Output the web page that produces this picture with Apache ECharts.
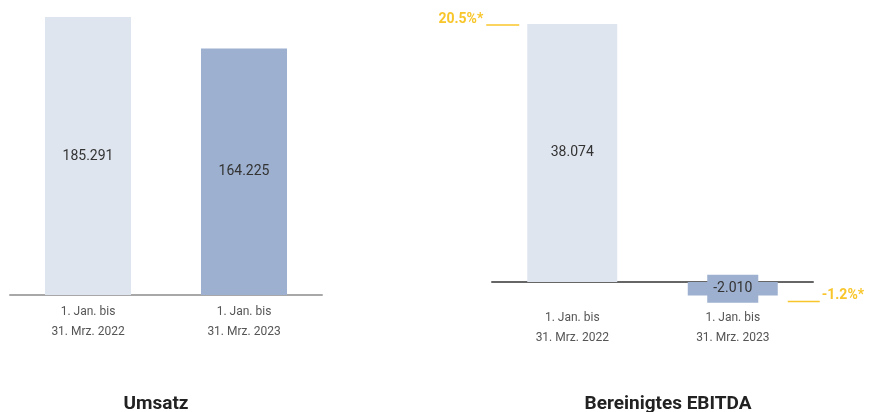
<!DOCTYPE html>
<html>
<head>
<meta charset="utf-8">
<script src="https://cdn.jsdelivr.net/npm/echarts@6/dist/echarts.min.js"></script>
<style>
html,body{margin:0;padding:0;background:#fff;}
#c{width:872px;height:412px;}
</style>
</head>
<body>
<div id="c"></div>
<script>
var categories = ['1. Jan. bis\n31. Mrz. 2022', '1. Jan. bis\n31. Mrz. 2023'];
var umsatzValues = [185.291, 164.225];
var ebitdaValues = [38.074, -2.010];
var marginLabels = ['20.5%*', '-1.2%*'];
var chartTitles = ['Umsatz', 'Bereinigtes EBITDA'];

var FONT = 'Roboto, "DejaVu Sans", sans-serif';
var barColors = ['#dfe5ef', '#9eb0cf'];
var yellow = '#f8c62a';

function fmt(v) { return v.toFixed(3); }

var chart = echarts.init(document.getElementById('c'));
chart.setOption({
  animation: false,
  backgroundColor: '#fff',
  textStyle: { fontFamily: FONT },
  title: [
    { text: chartTitles[0], left: 151, top: 390, textAlign: 'center',
      textStyle: { fontFamily: FONT, fontSize: 19, fontWeight: 'bold', color: '#222' } },
    { text: chartTitles[1], left: 663, top: 390, textAlign: 'center',
      textStyle: { fontFamily: FONT, fontSize: 19, fontWeight: 'bold', color: '#222' } }
  ],
  grid: [
    { left: 10, width: 312, top: 17, height: 278 },
    { left: 492, width: 321, top: 24, height: 271.6 }
  ],
  xAxis: [
    { gridIndex: 0, type: 'category', data: categories,
      axisLine: { lineStyle: { color: '#a8a8a8', width: 2 } },
      axisTick: { show: false },
      axisLabel: { margin: 7, fontFamily: FONT, fontSize: 12, lineHeight: 20, color: '#555' } },
    { gridIndex: 1, type: 'category', data: categories,
      axisLine: { onZero: true, lineStyle: { color: '#666', width: 2 } },
      axisTick: { show: false },
      axisLabel: { margin: 12, fontFamily: FONT, fontSize: 12, lineHeight: 20, color: '#555' } }
  ],
  yAxis: [
    { gridIndex: 0, type: 'value', min: 0, max: 'dataMax', show: false, splitLine: { show: false } },
    { gridIndex: 1, type: 'value', min: 'dataMin', max: 'dataMax', show: false, splitLine: { show: false } }
  ],
  series: [
    { type: 'bar', xAxisIndex: 0, yAxisIndex: 0, barWidth: 86, z: 1,
      data: umsatzValues.map(function (v, i) { return { value: v, itemStyle: { color: barColors[i] } }; }),
      label: { show: true, position: 'inside', fontFamily: FONT, fontSize: 14, color: '#333',
        formatter: function (p) { return fmt(p.value); } } },
    { type: 'bar', xAxisIndex: 1, yAxisIndex: 1, barWidth: 90, z: 1,
      data: ebitdaValues.map(function (v, i) {
        var d = { value: v, itemStyle: { color: barColors[i] } };
        if (v < 0) d.label = { backgroundColor: barColors[i], padding: [7, 6] };
        return d;
      }),
      label: { show: true, position: 'inside', fontFamily: FONT, fontSize: 14, color: '#333',
        formatter: function (p) { return fmt(p.value); } } },
    { type: 'custom', xAxisIndex: 1, yAxisIndex: 1, z: 5, silent: true,
      data: ebitdaValues.map(function (v, i) { return [i, v]; }),
      renderItem: function (params, api) {
        var i = api.value(0);
        var pt = api.coord([i, api.value(1)]);
        var half = 45;
        var label = marginLabels[params.dataIndex];
        var children;
        if (params.dataIndex === 0) {
          var edge = pt[0] - half;
          var ly = pt[1] + 1;
          children = [
            { type: 'line', shape: { x1: edge - 41, y1: ly, x2: edge - 8, y2: ly },
              style: { stroke: yellow, lineWidth: 1.5 } },
            { type: 'text', style: { text: label, x: edge - 44, y: ly + 1, align: 'right', verticalAlign: 'bottom',
              fill: yellow, font: 'bold 14px ' + FONT } }
          ];
        } else {
          var edge2 = pt[0] + half;
          var ly2 = pt[1] + 6;
          children = [
            { type: 'line', shape: { x1: edge2 + 10, y1: ly2, x2: edge2 + 42, y2: ly2 },
              style: { stroke: yellow, lineWidth: 1.5 } },
            { type: 'text', style: { text: label, x: edge2 + 44, y: ly2 + 1, align: 'left', verticalAlign: 'bottom',
              fill: yellow, font: 'bold 14px ' + FONT } }
          ];
        }
        return { type: 'group', children: children };
      } }
  ]
});
</script>
</body>
</html>
